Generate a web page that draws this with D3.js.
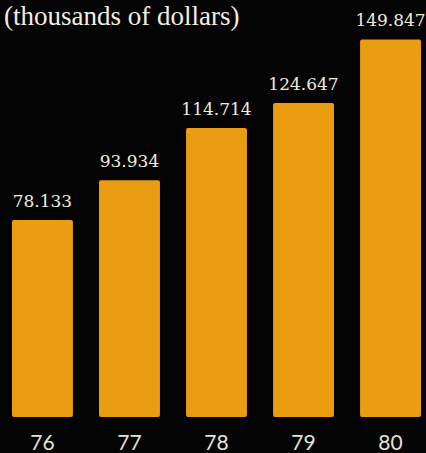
<!DOCTYPE html>
<html>
<head>
<meta charset="utf-8">
<script src="https://cdn.jsdelivr.net/npm/d3@7"></script>
<style>
  html, body { margin: 0; padding: 0; background: #040404; }
  svg { display: block; }
</style>
</head>
<body>
<div id="chart"></div>
<script>
"use strict";

// data
var years = ["76", "77", "78", "79", "80"];
var values = [78.133, 93.934, 114.714, 124.647, 149.847];
var valueLabels = ["78.133", "93.934", "114.714", "124.647", "149.847"];
var title = "(thousands of dollars)";

var width = 426, height = 453;

var svg = d3.select("#chart")
            .append("svg")
            .attr("width", width)
            .attr("height", height);

svg.append("rect")
   .attr("width", width)
   .attr("height", height)
   .attr("fill", "#040404");

// scales
var xScale = d3.scaleBand()
               .domain(years)
               .range([12, 421])
               .paddingInner(0.3)
               .paddingOuter(0);

var yScale = d3.scaleLinear()
               .domain([0, 150])
               .range([417, 39]);

// title at the top
svg.append("text")
   .attr("x", 4)
   .attr("y", 25)
   .attr("font-family", "Liberation Serif, DejaVu Serif, serif")
   .attr("font-size", 27)
   .attr("fill", "#f2eee0")
   .text(title);

// bars
svg.selectAll(".bar")
   .data(values)
   .enter()
   .append("rect")
   .attr("class", "bar")
   .attr("x", function(d, i) { return xScale(years[i]); })
   .attr("y", function(d) { return yScale(d); })
   .attr("width", xScale.bandwidth())
   .attr("height", function(d) { return yScale(0) - yScale(d); })
   .attr("rx", 2)
   .attr("ry", 2)
   .attr("fill", "#eb9d12");

// value labels
svg.selectAll(".val")
   .data(values)
   .enter()
   .append("text")
   .attr("class", "val")
   .attr("x", function(d, i) { return xScale(years[i]) + xScale.bandwidth() / 2; })
   .attr("y", function(d) { return yScale(d) - 13; })
   .attr("text-anchor", "middle")
   .attr("font-family", "DejaVu Serif, Liberation Serif, serif")
   .attr("font-size", 17)
   .attr("fill", "#f0ecdc")
   .text(function(d, i) { return valueLabels[i]; });

// year axis
var xAxis = d3.axisBottom(xScale).tickSize(0).tickPadding(0);
var ax = svg.append("g")
            .attr("transform", "translate(0,450)")
            .call(xAxis);
ax.select(".domain").remove();
ax.selectAll("text")
  .attr("y", 0)
  .attr("dy", 0)
  .attr("font-family", "Lato, DejaVu Sans, sans-serif")
  .attr("font-size", 21)
  .attr("fill", "#e6e2d6");
</script>
</body>
</html>
